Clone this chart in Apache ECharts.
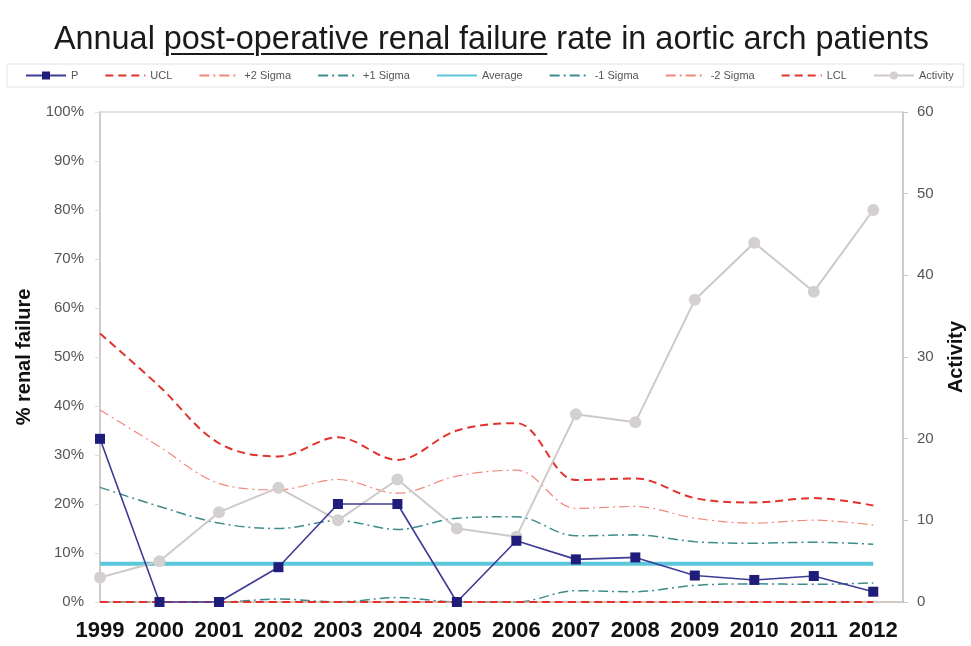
<!DOCTYPE html>
<html>
<head>
<meta charset="utf-8">
<script src="https://cdn.jsdelivr.net/npm/echarts@6/dist/echarts.min.js"></script>
<style>
  html, body { margin: 0; padding: 0; background: #fff; }
  #wrap { position: relative; width: 971px; height: 646px; }
  #title {
    position: absolute; left: 6px; top: 19px; width: 971px;
    text-align: center; font-family: "Liberation Sans", Arial, sans-serif;
    font-size: 32.4px; line-height: 38px; color: #1a1a1a; z-index: 2;
  }
  #title u { text-underline-offset: 4px; text-decoration-thickness: 2px; }
  #plot1 { position: absolute; left: 0; top: 0; width: 971px; height: 646px; }
</style>
</head>
<body>
<div id="wrap">
  <div id="title">Annual <u>post-operative renal failure</u> rate in aortic arch patients</div>
  <div id="plot1"></div>
</div>
<script>
// years on the x axis
const years = [1999, 2000, 2001, 2002, 2003, 2004, 2005, 2006, 2007, 2008, 2009, 2010, 2011, 2012];

// % renal failure (left axis)
const pRate    = [33.3, 0, 0, 7.1, 20, 20, 0, 12.5, 8.7, 9.1, 5.4, 4.5, 5.3, 2.1];
const ucl      = [54.8, 44.0, 32.4, 29.7, 33.6, 29.0, 35.0, 36.5, 24.9, 25.2, 21.2, 20.3, 21.2, 19.7];
const plus2    = [39.2, 31.7, 24.2, 22.9, 25.0, 22.2, 25.7, 26.9, 19.1, 19.5, 17.1, 16.1, 16.7, 15.7];
const plus1    = [23.4, 19.5, 16.1, 15.0, 16.6, 14.8, 17.1, 17.4, 13.5, 13.7, 12.3, 12.0, 12.2, 11.8];
const average  = [7.8, 7.8, 7.8, 7.8, 7.8, 7.8, 7.8, 7.8, 7.8, 7.8, 7.8, 7.8, 7.8, 7.8];
const minus1   = [0, 0, 0, 0.6, 0, 0.9, 0, 0, 2.3, 2.1, 3.4, 3.7, 3.6, 3.9];
const minus2   = [0, 0, 0, 0, 0, 0, 0, 0, 0, 0, 0, 0, 0, 0];
const lcl      = [0, 0, 0, 0, 0, 0, 0, 0, 0, 0, 0, 0, 0, 0];

// number of patients (right axis)
const activity = [3, 5, 11, 14, 10, 15, 9, 8, 23, 22, 37, 44, 38, 48];

const legendNames = ['P', 'UCL', '+2 Sigma', '+1 Sigma', 'Average', '-1 Sigma', '-2 Sigma', 'LCL', 'Activity'];
const withMarker = ['P', 'Activity'];

const axisColor = '#cbc3be';
const font = '"Liberation Sans", Arial, sans-serif';

function pairs(arr) {
  return years.map(function (y, i) { return [y, arr[i]]; });
}

function limitLine(name, arr, color, width, dash) {
  return {
    name: name,
    type: 'line',
    data: pairs(arr),
    symbol: 'none',
    smooth: 0.35,
    lineStyle: { color: color, width: width, type: dash },
    itemStyle: { color: color },
    z: 2
  };
}

const chartDom = document.getElementById('plot1');
const myChart = echarts.init(chartDom);

const option = {
  animation: false,
  textStyle: { fontFamily: font },
  legend: {
    left: 7,
    top: 64,
    padding: [6, 10, 6, 18],
    borderColor: '#e2e2e2',
    borderWidth: 1,
    itemWidth: 40,
    itemHeight: 10,
    itemGap: 26,
    textStyle: { fontSize: 11, color: '#555' },
    data: legendNames.map(function (n) {
      return withMarker.indexOf(n) >= 0 ? { name: n } : { name: n, itemStyle: { opacity: 0 } };
    })
  },
  grid: {
    left: 100, right: 68, top: 112, bottom: 44,
    outerBoundsMode: 'none',
    containLabel: false,
    show: true, borderColor: axisColor, borderWidth: 1
  },
  xAxis: {
    type: 'value',
    min: 1999,
    max: 2012.5,
    interval: 1,
    splitLine: { show: false },
    axisTick: { show: false },
    axisLine: { lineStyle: { color: axisColor, width: 1.5 } },
    axisLabel: {
      margin: 18,
      fontSize: 22,
      fontWeight: 'bold',
      color: '#111',
      showMaxLabel: false,
      formatter: function (v) { return Number.isInteger(v) ? String(v) : ''; }
    }
  },
  yAxis: [{
    type: 'value',
    min: 0, max: 100, interval: 10,
    name: '% renal failure',
    nameLocation: 'middle',
    nameGap: 64,
    nameTextStyle: { fontSize: 20, fontWeight: 'bold', color: '#111' },
    splitLine: { show: false },
    axisLine: { show: true, lineStyle: { color: axisColor, width: 1.5 } },
    axisTick: { show: true, length: 5, lineStyle: { color: '#ddd' } },
    axisLabel: { margin: 16, fontSize: 15, color: '#555', formatter: '{value}%' }
  }, {
    type: 'value',
    min: 0, max: 60, interval: 10,
    position: 'right',
    name: 'Activity',
    nameLocation: 'middle',
    nameGap: 43,
    nameTextStyle: { fontSize: 20, fontWeight: 'bold', color: '#111' },
    splitLine: { show: false },
    axisLine: { show: true, lineStyle: { color: axisColor, width: 1.5 } },
    axisTick: { show: true, length: 5, lineStyle: { color: axisColor } },
    axisLabel: { margin: 14, fontSize: 15, color: '#555' }
  }],
  series: [
    limitLine('UCL', ucl, '#e2322b', 2, [8, 5]),
    limitLine('+2 Sigma', plus2, '#f0897a', 1.2, [10, 4, 2, 4]),
    limitLine('+1 Sigma', plus1, '#3d8c8c', 1.5, [10, 4, 2, 4]),
    {
      name: 'Average',
      type: 'line',
      data: pairs(average),
      symbol: 'none',
      lineStyle: { color: '#5cc6dc', width: 4 },
      itemStyle: { color: '#5cc6dc' },
      z: 2
    },
    limitLine('-1 Sigma', minus1, '#3d8c8c', 1.5, [10, 4, 2, 4]),
    limitLine('-2 Sigma', minus2, '#f0897a', 1.2, [10, 4, 2, 4]),
    limitLine('LCL', lcl, '#e2322b', 2, [8, 5]),
    {
      name: 'Activity',
      type: 'line',
      yAxisIndex: 1,
      data: pairs(activity),
      symbol: 'circle',
      symbolSize: 12,
      lineStyle: { color: '#cdc9c9', width: 2 },
      itemStyle: { color: '#d4d0d0' },
      z: 3
    },
    {
      name: 'P',
      type: 'line',
      data: pairs(pRate),
      symbol: 'rect',
      symbolSize: 10,
      lineStyle: { color: '#3c3b96', width: 1.6 },
      itemStyle: { color: '#1e1d7a' },
      z: 4
    }
  ]
};

myChart.setOption(option);
</script>
</body>
</html>
